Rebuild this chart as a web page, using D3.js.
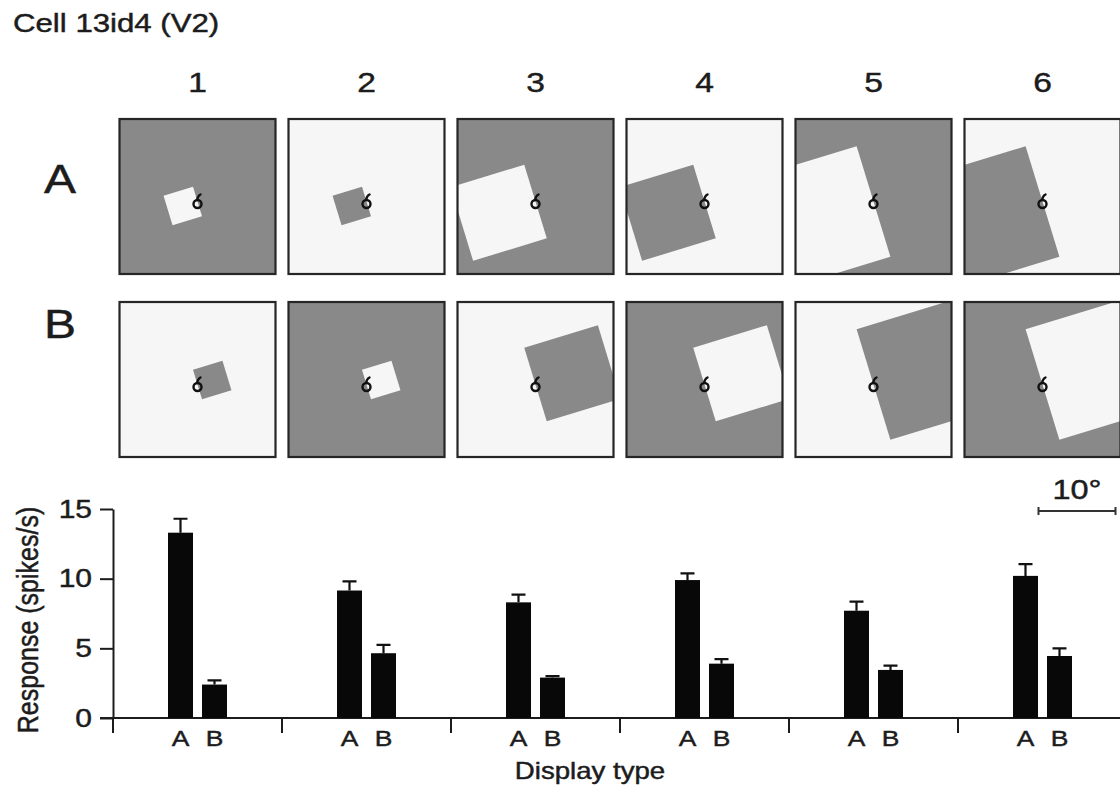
<!DOCTYPE html>
<html>
<script src="https://d3js.org/d3.v7.min.js"></script>
<style>
  body { margin: 0; background: #fff; }
  svg text { font-family: "Liberation Sans", Arial, Helvetica, sans-serif; fill: #1c1c1c; stroke: #1c1c1c; stroke-width: 0.45px; }
</style>
<body>
<svg width="1120" height="793"></svg>
<script>
// values
const groups = ['1', '2', '3', '4', '5', '6'];
const conds = ['A', 'B'];
const respA = [13.3, 9.15, 8.3, 9.9, 7.7, 10.2];
const errA = [1.0, 0.65, 0.55, 0.48, 0.65, 0.85];
const respB = [2.4, 4.65, 2.9, 3.9, 3.45, 4.45];
const errB = [0.3, 0.6, 0.1, 0.33, 0.31, 0.55];
const yTicks = [0, 5, 10, 15];
// square size of each display, in degrees
const squareDeg = [4, 4, 10, 10, 15, 15];
// figure colour of row A (row B is the reverse)
const figA = ['light', 'dark', 'light', 'dark', 'light', 'dark'];

const LIGHT = '#f6f6f6', DARK = '#898989', INK = '#1c1c1c';
const svg = d3.select('svg');

function txt(x, y, s, size, anchor) {
  return svg.append('text')
    .attr('transform', 'translate(' + x + ',' + y + ') scale(1.2,1)')
    .attr('text-anchor', anchor || 'start')
    .style('font-size', size + 'px')
    .text(s);
}

var x = d3.scaleBand().domain(groups).range([113, 1127]);
var xi = d3.scaleBand().domain(conds).range([55, 114]).paddingInner(0.265);
var y = d3.scaleLinear().domain([0, 15]).range([718, 509]);
var deg = d3.scaleLinear().domain([0, 10]).range([0, 77]);

txt(13, 32, 'Cell 13id4 (V2)', 26);

// ---- stimulus panels
const panelW = 156, panelH = 155;
const rowTop = [119, 302];
txt(60, 193, 'A', 40, 'middle');
txt(60, 338, 'B', 40, 'middle');

groups.forEach(function (g, i) {
  var cx = x(g) + x.bandwidth() / 2;
  txt(cx, 92, g, 28, 'middle');
  conds.forEach(function (c, r) {
    var fig = figA[i];
    if (r == 1) fig = (fig == 'light') ? 'dark' : 'light';
    var figCol = fig == 'light' ? LIGHT : DARK;
    var bgCol = fig == 'light' ? DARK : LIGHT;
    var x0 = cx - panelW / 2, y0 = rowTop[r];
    var id = 'clip' + g + c;
    svg.append('clipPath').attr('id', id)
      .append('rect').attr('x', x0).attr('y', y0).attr('width', panelW).attr('height', panelH);
    var p = svg.append('g');
    p.append('rect').attr('x', x0).attr('y', y0).attr('width', panelW).attr('height', panelH)
      .attr('fill', bgCol);
    var s = deg(squareDeg[i]);
    var rx = cx, ry = y0 + panelH / 2 + 5;
    // row A: square left of the receptive field, row B: right of it
    var sx = r == 0 ? -s : 0;
    p.append('g').attr('clip-path', 'url(#' + id + ')')
      .append('rect')
      .attr('x', sx).attr('y', -s / 2).attr('width', s).attr('height', s)
      .attr('fill', figCol)
      .attr('transform', 'translate(' + rx + ',' + ry + ') rotate(-17)');
    p.append('rect').attr('x', x0).attr('y', y0).attr('width', panelW).attr('height', panelH)
      .attr('fill', 'none').attr('stroke', '#262626').attr('stroke-width', 2.2);
    // receptive field marker
    p.append('circle').attr('cx', rx).attr('cy', ry + 2.5).attr('r', 4)
      .attr('fill', 'none').attr('stroke', '#111').attr('stroke-width', 2.4);
    p.append('path').attr('d', 'M' + (rx - 0.5) + ',' + (ry - 1.5) + 'Q' + (rx + 0.5) + ',' + (ry - 6) + ' ' + (rx + 3) + ',' + (ry - 7))
      .attr('stroke', '#111').attr('stroke-width', 2.4).attr('stroke-linecap', 'round').attr('fill', 'none');
  });
});

// ---- scale bar
var sb0 = x('6') + x.bandwidth() / 2 - 4, sb1 = sb0 + deg(10);
svg.append('path').attr('d', 'M' + sb0 + ',511H' + sb1 + 'M' + sb0 + ',507V515M' + sb1 + ',507V515')
  .attr('stroke', '#333').attr('stroke-width', 2).attr('fill', 'none');
txt((sb0 + sb1) / 2, 499, '10\u00b0', 27, 'middle');

// ---- bar chart
var yAxis = svg.append('g').attr('transform', 'translate(113,0)')
  .call(d3.axisLeft(y).tickValues(yTicks).tickSize(13).tickPadding(8).tickSizeOuter(0));
yAxis.select('.domain').attr('stroke', INK).attr('stroke-width', 2);
yAxis.selectAll('.tick line').attr('stroke', INK).attr('stroke-width', 2);
yAxis.selectAll('.tick text').attr('x', -21 / 1.2).attr('transform', 'scale(1.2,1)')
  .style('font-size', '25px').style('font-family', null).attr('fill', INK);

// x axis line and group separators
svg.append('line').attr('x1', 100).attr('x2', 1120).attr('y1', y(0)).attr('y2', y(0))
  .attr('stroke', INK).attr('stroke-width', 2);
svg.selectAll('.sep').data(groups).enter().append('line')
  .attr('x1', function (d) { return x(d); }).attr('x2', function (d) { return x(d); })
  .attr('y1', y(0)).attr('y2', y(0) + 15)
  .attr('stroke', INK).attr('stroke-width', 2);

var bars = [];
groups.forEach(function (g, i) {
  bars.push({ g: g, c: 'A', v: respA[i], e: errA[i] });
  bars.push({ g: g, c: 'B', v: respB[i], e: errB[i] });
});

var bx = function (d) { return x(d.g) + xi(d.c); };
svg.selectAll('.err').data(bars).enter().append('path')
  .attr('d', function (d) {
    var m = bx(d) + xi.bandwidth() / 2;
    return 'M' + m + ',' + y(d.v) + 'V' + y(d.v + d.e) + 'M' + (m - 7) + ',' + y(d.v + d.e) + 'H' + (m + 7);
  })
  .attr('stroke', '#111').attr('stroke-width', 2.2).attr('fill', 'none');
svg.selectAll('.bar').data(bars).enter().append('rect')
  .attr('x', bx).attr('width', xi.bandwidth())
  .attr('y', function (d) { return y(d.v); })
  .attr('height', function (d) { return y(0) - y(d.v); })
  .attr('fill', '#080808');
bars.forEach(function (d) {
  txt(bx(d) + xi.bandwidth() / 2, 746, d.c, 22, 'middle');
});

txt(590, 779, 'Display type', 23, 'middle');
svg.append('text')
  .attr('transform', 'translate(38,620) scale(1.2,1) rotate(-90)')
  .attr('text-anchor', 'middle').style('font-size', '25px')
  .text('Response (spikes/s)');
</script>
</body>
</html>
